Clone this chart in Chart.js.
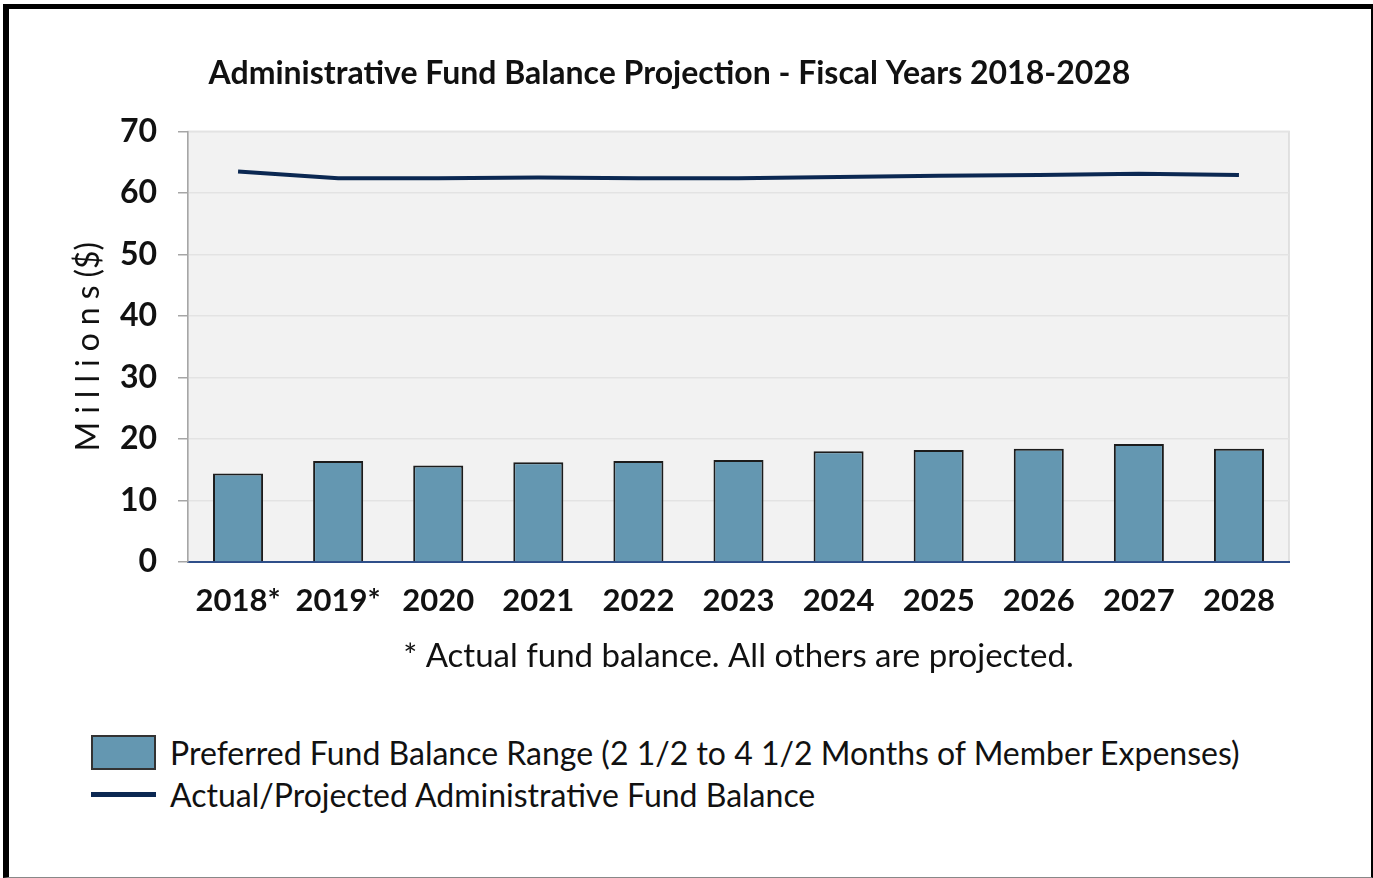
<!DOCTYPE html>
<html>
<head>
<meta charset="utf-8">
<script src="https://cdn.jsdelivr.net/npm/chart.js@4"></script>
<style>
  html, body { margin: 0; padding: 0; background: #fff; }
  body { width: 1373px; height: 878px; position: relative; overflow: hidden; font-family: Lato, sans-serif; }
  #frame { position: absolute; left: 3px; top: 4px; width: 1370px; height: 874px; box-sizing: border-box;
           border-top: 5px solid #000; border-left: 6px solid #000; border-right: 2px solid #000; border-bottom: 1px solid #888; }
  #wrap { position: absolute; left: 0; top: 0; width: 1373px; height: 700px; }
  #legend { position: absolute; left: 91px; top: 731px; font-size: 32px; color: #111; }
  #legend .row { display: flex; align-items: center; height: 42px; }
  #legend .sw { width: 65px; margin-right: 14px; box-sizing: border-box; }
</style>
</head>
<body>
<div id="frame"></div>
<div id="wrap"><canvas id="c"></canvas></div>
<div id="legend"></div>
<script>
// Administrative fund balance vs preferred range, FY2018-2028 (millions of dollars)
const years = ['2018*', '2019*', '2020', '2021', '2022', '2023', '2024', '2025', '2026', '2027', '2028'];
const preferredRange = [14.4, 16.4, 15.7, 16.2, 16.4, 16.6, 18.0, 18.2, 18.4, 19.2, 18.4];
const fundBalance = [63.5, 62.4, 62.4, 62.5, 62.4, 62.4, 62.6, 62.8, 62.9, 63.1, 62.9];
const yTicks = [0, 10, 20, 30, 40, 50, 60, 70];

const BAR = '#6497b1';
const NAVY = '#0b2852';
const FONT = 'Lato, sans-serif';

const plotBg = {
  id: 'plotBg',
  beforeDraw(chart) {
    const { ctx, chartArea: a } = chart;
    ctx.save();
    ctx.fillStyle = '#f2f2f2';
    ctx.fillRect(a.left, a.top, a.width, a.height);
    ctx.strokeStyle = '#d9d9d9';
    ctx.lineWidth = 1.5;
    ctx.strokeRect(a.left, a.top, a.width, a.height);
    ctx.restore();
  },
};

const chart = new Chart(document.getElementById('c'), {
  data: {
    labels: years,
    datasets: [
      { type: 'line', label: 'Actual/Projected Administrative Fund Balance', data: fundBalance,
        borderColor: NAVY, borderWidth: 4, pointRadius: 0, tension: 0, order: 0 },
      { type: 'bar', label: 'Preferred Fund Balance Range (2 1/2 to 4 1/2 Months of Member Expenses)', data: preferredRange,
        backgroundColor: BAR, borderColor: '#1c1c1c', borderWidth: 2, borderSkipped: 'bottom',
        categoryPercentage: 1, barPercentage: 0.5, order: 1 },
    ],
  },
  options: {
    responsive: true,
    maintainAspectRatio: false,
    animation: false,
    layout: { padding: { left: 10, right: 44, top: 0, bottom: 0 } },
    plugins: {
      legend: { display: false },
      tooltip: { enabled: false },
      title: {
        display: true,
        text: 'Administrative Fund Balance Projection - Fiscal Years 2018-2028',
        color: '#111',
        font: { family: FONT, size: 32, weight: 'bold' },
        padding: { top: 54, bottom: 39 },
      },
    },
    scales: {
      x: {
        grid: { display: false, drawTicks: false },
        border: { color: '#2f4f8a', width: 2 },
        ticks: { color: '#111', font: { family: FONT, size: 31, weight: 'bold' }, padding: 20, maxRotation: 0, autoSkip: false },
        title: {
          display: true, text: '* Actual fund balance. All others are projected.',
          color: '#111', font: { family: FONT, size: 33 }, padding: { top: 0, bottom: 24 },
        },
        afterFit: (s) => { s.height = 138; },
      },
      y: {
        min: 0, max: 70,
        afterBuildTicks: (s) => { s.ticks = yTicks.map((v) => ({ value: v })); },
        grid: { color: '#e3e3e3', lineWidth: 1.5, tickColor: '#a6a6a6', tickLength: 10 },
        border: { color: '#a6a6a6', width: 1.5 },
        ticks: { color: '#111', font: { family: FONT, size: 32, weight: 'bold' }, padding: 21 },
        title: {
          display: true, text: 'M\u2005i\u2005l\u2005l\u2005i\u2005o\u2005n\u2005s\u2005($)',
          color: '#111', font: { family: FONT, size: 32 }, padding: { top: 59, bottom: 0 },
        },
        afterFit: (s) => { s.width = 178; },
      },
      // empty right-hand box so the title centres like the original
      yPad: {
        position: 'right', display: true,
        grid: { display: false }, border: { display: false }, ticks: { display: false },
        afterFit: (s) => { s.width = 40; },
      },
    },
  },
  plugins: [plotBg],
});

// legend, bar entry first as in the original
const items = chart.data.datasets.slice().reverse();
document.getElementById('legend').innerHTML = items.map((d) => {
  const sw = d.type === 'bar'
    ? `<div class="sw" style="height:35px;background:${d.backgroundColor};border:2px solid #333"></div>`
    : `<div class="sw" style="height:5px;background:${d.borderColor}"></div>`;
  return `<div class="row">${sw}<span>${d.label}</span></div>`;
}).join('');
</script>
</body>
</html>
